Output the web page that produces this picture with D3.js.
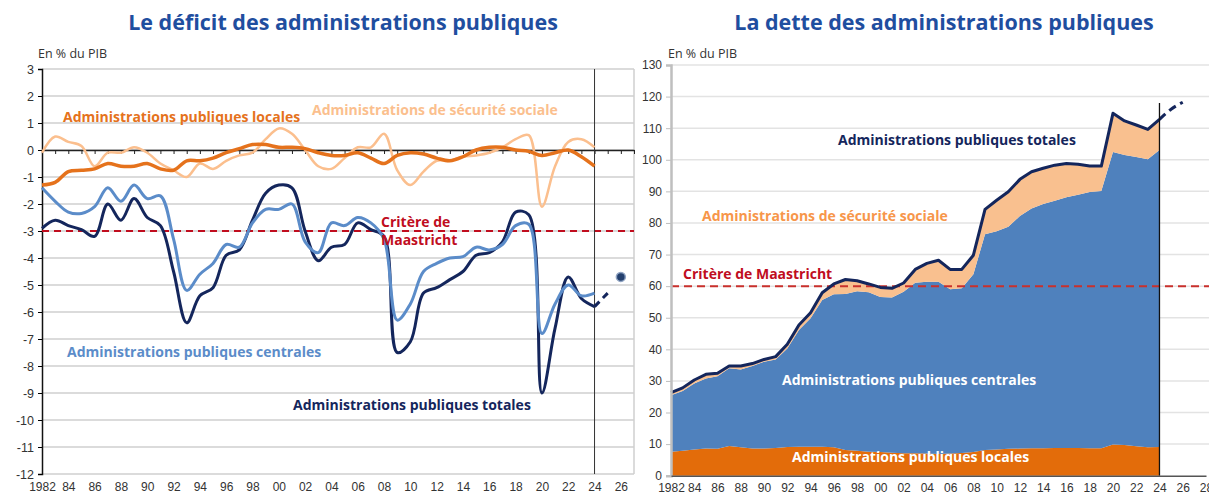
<!DOCTYPE html>
<html>
<head>
<meta charset="utf-8">
<script src="https://cdn.jsdelivr.net/npm/d3@7"></script>
<style>
  body { margin: 0; background: #fff; }
  svg { font-family: "Open Sans", sans-serif; display: block; }
  .tick text { fill: #333; font-size: 12px; }
</style>
</head>
<body>
<div id="chart"></div>
<script>
// ---- données : déficit (gauche), 1982-2024 ----
var years = d3.range(1982, 2025);

var apuTotales = [-2.9, -2.6, -2.8, -2.95, -3.2, -2.0, -2.6, -1.8, -2.5, -2.8,
  -4.5, -6.4, -5.4, -5.1, -3.9, -3.7, -2.6, -1.6, -1.3, -1.4,
  -3.0, -4.1, -3.6, -3.5, -2.7, -2.95, -3.2, -7.5, -7.1, -5.3,
  -5.1, -4.8, -4.5, -3.9, -3.8, -3.4, -2.3, -2.4, -9.0, -6.6,
  -4.7, -5.5, -5.8];
var apuCentrales = [-1.4, -1.9, -2.3, -2.35, -2.1, -1.4, -1.9, -1.3, -1.8, -1.7,
  -3.3, -5.2, -4.6, -4.2, -3.5, -3.6, -2.7, -2.2, -2.2, -2.0,
  -3.4, -3.8, -2.7, -2.8, -2.5, -2.7, -3.3, -6.3, -5.7, -4.5,
  -4.2, -4.0, -3.95, -3.6, -3.7, -3.5, -2.8, -2.75, -6.8, -5.7,
  -5.0, -5.4, -5.3];
var apuLocales = [-1.3, -1.2, -0.8, -0.75, -0.7, -0.5, -0.6, -0.6, -0.5, -0.7,
  -0.75, -0.4, -0.4, -0.3, -0.1, 0.05, 0.2, 0.2, 0.1, 0.1,
  0.05, -0.1, -0.2, -0.2, -0.1, -0.3, -0.5, -0.2, -0.1, -0.15,
  -0.3, -0.4, -0.25, 0.0, 0.1, 0.1, 0.0, -0.05, -0.2, -0.1,
  0.0, -0.25, -0.6];
var asso = [-0.1, 0.5, 0.3, 0.15, -0.6, -0.1, -0.1, 0.1, -0.1, -0.5,
  -0.75, -1.0, -0.5, -0.7, -0.4, -0.2, -0.1, 0.4, 0.8, 0.6,
  0.0, -0.6, -0.7, -0.3, 0.1, 0.1, 0.6, -0.75, -1.3, -0.8,
  -0.4, -0.4, -0.25, -0.2, -0.1, 0.1, 0.4, 0.55, -2.1, -0.6,
  0.3, 0.4, 0.1];
// prévision
var deficitProjYears = [2024, 2025];
var deficitProj = [-5.8, -5.3];
var deficitCibleYear = 2026;
var deficitCible = -4.7;

// ---- données : dette (droite), contributions empilées ----
var detteLocales = [7.6, 7.9, 8.3, 8.6, 8.5, 9.4, 9.0, 8.6, 8.6, 8.8,
  9.1, 9.2, 9.2, 9.2, 9.0, 8.1, 7.9, 7.6, 7.5, 7.3,
  7.1, 7.1, 7.0, 6.9, 7.0, 7.2, 7.5, 8.1, 8.3, 8.5,
  8.6, 8.7, 8.7, 8.8, 8.8, 8.8, 8.7, 8.7, 9.9, 9.7,
  9.3, 9.0, 9.1];
var detteCentrales = [17.9, 18.9, 20.9, 22.2, 23.0, 24.6, 24.6, 26.1, 27.5, 28.0,
  31.2, 36.9, 40.6, 46.4, 48.4, 49.4, 50.5, 50.5, 49.1, 49.1,
  51.1, 54.0, 54.4, 54.5, 52.0, 52.1, 56.3, 68.3, 69.1, 70.3,
  73.6, 75.9, 77.3, 78.2, 79.3, 80.1, 81.1, 81.4, 92.6, 91.8,
  91.6, 91.2, 94.0];
var detteAsso = [0.8, 1.0, 1.1, 1.3, 0.9, 0.7, 1.1, 0.8, 0.7, 0.9,
  1.3, 1.6, 1.8, 2.3, 3.3, 4.6, 3.3, 2.6, 3.0, 2.9,
  2.8, 4.2, 5.8, 6.8, 6.3, 6.0, 6.0, 7.9, 9.8, 11.1,
  11.6, 11.6, 11.3, 11.3, 10.7, 9.7, 8.2, 7.9, 12.2, 10.8,
  10.1, 9.4, 9.7];
var detteProjYears = [2024, 2025, 2026];
var detteProj = [112.8, 116.0, 118.2];

var maastrichtDeficit = -3;
var maastrichtDette = 60;

var navy = "#14265c", bleuClair = "#5b8cc9", orange = "#e5721c", peche = "#fbbf8e";
var rouge = "#c00d1e", titre = "#1f4e9f";

var svg = d3.select("#chart").append("svg")
  .attr("width", 1209).attr("height", 495);

// titres
svg.append("text").attr("x", 343).attr("y", 30).attr("text-anchor", "middle")
  .style("font-size", "21.5px").style("font-weight", "bold").style("fill", titre)
  .text("Le déficit des administrations publiques");
svg.append("text").attr("x", 944).attr("y", 30).attr("text-anchor", "middle")
  .style("font-size", "21.5px").style("font-weight", "bold").style("fill", titre)
  .text("La dette des administrations publiques");

// ================= graphique de gauche =================
var xL = d3.scaleLinear().domain([1982, 2027]).range([42, 634]);
var yL = d3.scaleLinear().domain([-12, 3]).range([474, 69]);
var gL = svg.append("g");

// grille
gL.selectAll(".gridL").data(d3.range(-12, 4)).enter().append("line")
  .attr("x1", xL(1982)).attr("x2", xL(2027))
  .attr("y1", function(d) { return yL(d); }).attr("y2", function(d) { return yL(d); })
  .style("stroke", "#cfcfcf").style("stroke-width", 1.5);
gL.append("line").attr("x1", xL(2027)).attr("x2", xL(2027))
  .attr("y1", yL(3)).attr("y2", yL(-12)).style("stroke", "#cfcfcf").style("stroke-width", 1.5);

// axe Y
var axL = gL.append("g").attr("transform", "translate(" + xL(1982) + ",0)")
  .call(d3.axisLeft(yL).tickValues(d3.range(-12, 4)).tickSize(4).tickPadding(4)
    .tickFormat(function(d) { return String(d); }));
axL.select(".domain").style("stroke", "#111").style("stroke-width", 1.5);
axL.selectAll(".tick text").style("font-size", "12.5px");

// axe des années sur le zéro (graduations seulement)
var ax0 = gL.append("g").attr("transform", "translate(0," + yL(0) + ")")
  .call(d3.axisBottom(xL).tickValues(d3.range(1982, 2028)).tickSize(4).tickSizeOuter(0).tickFormat(""));
ax0.select(".domain").style("stroke", "#222").style("stroke-width", 1.5);
ax0.selectAll(".tick line").style("stroke", "#222");

// libellés des années en bas
var axB = gL.append("g").attr("transform", "translate(0," + yL(-12) + ")")
  .call(d3.axisBottom(xL).tickValues(d3.range(1982, 2027, 2)).tickSize(0).tickPadding(8)
    .tickFormat(function(d) { return d == 1982 ? "1982" : String(d).slice(2); }));
axB.select(".domain").remove();

gL.append("text").attr("x", 38).attr("y", 58).style("font-size", "12.5px").style("fill", "#333")
  .text("En % du PIB");

// critère de Maastricht
gL.append("line").attr("x1", xL(1982)).attr("x2", xL(2027))
  .attr("y1", yL(maastrichtDeficit)).attr("y2", yL(maastrichtDeficit))
  .style("stroke", rouge).style("stroke-width", 2).style("stroke-dasharray", "7,5");

// séparateur 2024
gL.append("line").attr("x1", xL(2024)).attr("x2", xL(2024))
  .attr("y1", yL(3)).attr("y2", yL(-12)).style("stroke", "#333").style("stroke-width", 1);

var lineL = d3.line()
  .x(function(d, i) { return xL(years[i]); })
  .y(function(d) { return yL(d); })
  .curve(d3.curveCatmullRom.alpha(0.5));

var seriesL = [
  {v: asso, c: peche, w: 2.5},
  {v: apuLocales, c: orange, w: 3.5},
  {v: apuTotales, c: navy, w: 3},
  {v: apuCentrales, c: bleuClair, w: 3}
];
seriesL.forEach(function(s) {
  gL.append("path").datum(s.v).attr("d", lineL)
    .style("fill", "none").style("stroke", s.c).style("stroke-width", s.w)
    .style("stroke-linejoin", "round");
});

// prévision en pointillés + cible
gL.append("path").datum(deficitProj)
  .attr("d", d3.line().x(function(d, i) { return xL(deficitProjYears[i]); })
    .y(function(d) { return yL(d); }).curve(d3.curveMonotoneX))
  .style("fill", "none").style("stroke", navy).style("stroke-width", 3)
  .style("stroke-dasharray", "7,5");
gL.append("circle").attr("cx", xL(deficitCibleYear)).attr("cy", yL(deficitCible)).attr("r", 4.5)
  .style("fill", "#24406e").style("stroke", "#8fa3c2").style("stroke-width", 1.5);

// étiquettes
var labL = [
  {t: "Administrations publiques locales", x: 63, y: 122, c: orange},
  {t: "Administrations de sécurité sociale", x: 312, y: 115, c: peche},
  {t: "Critère de", x: 381, y: 227, c: rouge},
  {t: "Maastricht", x: 381, y: 245, c: rouge},
  {t: "Administrations publiques centrales", x: 67, y: 357, c: bleuClair},
  {t: "Administrations publiques totales", x: 293, y: 410, c: navy}
];
labL.forEach(function(l) {
  gL.append("text").attr("x", l.x).attr("y", l.y).text(l.t)
    .style("font-size", "14px").style("font-weight", "bold").style("fill", l.c);
});

// ================= graphique de droite =================
var xR = d3.scaleLinear().domain([1982, 2028]).range([671, 1206]);
var yR = d3.scaleLinear().domain([0, 130]).range([475.7, 65]);
var gR = svg.append("g");

gR.selectAll(".gridR").data(d3.range(10, 131, 10)).enter().append("line")
  .attr("x1", xR(1982)).attr("x2", 1209)
  .attr("y1", function(d) { return yR(d); }).attr("y2", function(d) { return yR(d); })
  .style("stroke", "#e3e3e3").style("stroke-width", 1.5);

// aires empilées
var rows = years.map(function(y, i) {
  return {year: y, locales: detteLocales[i], centrales: detteCentrales[i], asso: detteAsso[i]};
});
var stack = d3.stack().keys(["locales", "centrales", "asso"]);
var layers = stack(rows);
var couleurs = {locales: "#e36c0a", centrales: "#4f81bd", asso: "#f9c08f"};

var area = d3.area()
  .x(function(d) { return xR(d.data.year); })
  .y0(function(d) { return yR(d[0]); })
  .y1(function(d) { return yR(d[1]); });

gR.selectAll(".layer").data(layers).enter().append("path")
  .attr("d", area)
  .style("fill", function(d) { return couleurs[d.key]; });

// critère 60 %
gR.append("line").attr("x1", xR(1982)).attr("x2", 1209)
  .attr("y1", yR(maastrichtDette)).attr("y2", yR(maastrichtDette))
  .style("stroke", "#c9302c").style("stroke-width", 2).style("stroke-dasharray", "8,5");

// total
var total = layers[2];
gR.append("path").datum(total)
  .attr("d", d3.line().x(function(d) { return xR(d.data.year); }).y(function(d) { return yR(d[1]); }))
  .style("fill", "none").style("stroke", navy).style("stroke-width", 3).style("stroke-linejoin", "round");

gR.append("path").datum(detteProj)
  .attr("d", d3.line().x(function(d, i) { return xR(detteProjYears[i]); })
    .y(function(d) { return yR(d); }).curve(d3.curveMonotoneX))
  .style("fill", "none").style("stroke", navy).style("stroke-width", 3)
  .style("stroke-dasharray", "8,5");

gR.append("line").attr("x1", xR(2024)).attr("x2", xR(2024))
  .attr("y1", yR(118)).attr("y2", yR(0)).style("stroke", "#111").style("stroke-width", 1.3);

// axes
var ayR = gR.append("g").attr("transform", "translate(" + xR(1982) + ",0)")
  .call(d3.axisLeft(yR).tickValues(d3.range(0, 131, 10)).tickSize(5).tickPadding(4));
ayR.select(".domain").style("stroke", "#bfbfbf").style("stroke-width", 2.5);
ayR.selectAll(".tick line").style("stroke", "#bfbfbf");

var axR = gR.append("g").attr("transform", "translate(0," + yR(0) + ")")
  .call(d3.axisBottom(xR).tickValues(d3.range(1982, 2029, 2)).tickSize(0).tickPadding(8)
    .tickFormat(function(d) { return d == 1982 ? "1982" : String(d).slice(2); }));
axR.select(".domain").style("stroke", "#555").style("stroke-width", 1.5);

gR.append("text").attr("x", 668).attr("y", 58).style("font-size", "12.5px").style("fill", "#333")
  .text("En % du PIB");

var labR = [
  {t: "Administrations publiques totales", x: 838, y: 145, c: navy},
  {t: "Administrations de sécurité sociale", x: 702, y: 221, c: "#f7964a"},
  {t: "Critère de Maastricht", x: 683, y: 279, c: rouge},
  {t: "Administrations publiques centrales", x: 782, y: 385, c: "#fff"},
  {t: "Administrations publiques locales", x: 792, y: 462, c: "#fff"}
];
labR.forEach(function(l) {
  gR.append("text").attr("x", l.x).attr("y", l.y).text(l.t)
    .style("font-size", "14px").style("font-weight", "bold").style("fill", l.c);
});
</script>
</body>
</html>
